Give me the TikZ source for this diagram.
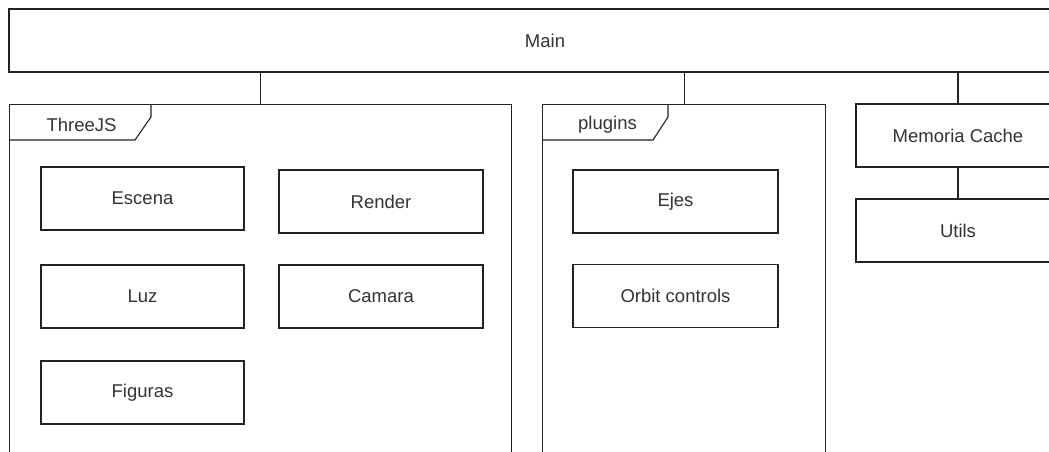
\documentclass[tikz,border=0pt]{standalone}
\usepackage{fontspec}
\setmainfont{Liberation Sans}
\usetikzlibrary{calc}
\definecolor{txt}{HTML}{333333}
\definecolor{ln}{HTML}{222222}
\begin{document}
\begin{tikzpicture}[x=1pt,y=-1pt,
  box/.style={draw=ln,line width=1.1pt,fill=white,rectangle,inner sep=0pt,text=txt,
    font=\fontsize{18.5}{22}\selectfont},
  frame/.style={draw=ln,line width=1.1pt,rectangle,inner sep=0pt},
  tabline/.style={draw=ln,line width=1.1pt},
  tablabel/.style={text=txt,inner sep=0pt,font=\fontsize{18.5}{22}\selectfont},
  conn/.style={draw=ln,line width=1.1pt}]
\useasboundingbox (0,0) rectangle (1049,452);
\clip (0,0) rectangle (1049,452);
\fill[white] (0,0) rectangle (1049,452);
% Main
\node[box,minimum width=1072pt,minimum height=63pt] (main) at (545,40.5) {Main};
% frames
\node[frame,minimum width=502pt,minimum height=380pt,anchor=north west] (three) at (9,104) {};
\node[frame,minimum width=283pt,minimum height=380pt,anchor=north west] (plug) at (542,104) {};
% tabs
\draw[tabline] ($(three.north west)+(142,0)$) -- ++(0,13) -- ++(-16,23) -- ($(three.north west)+(0,36)$);
\node[tablabel] (threelbl) at ($(three.north west)+(72.5,21)$) {ThreeJS};
\draw[tabline] ($(plug.north west)+(126,0)$) -- ++(0,13) -- ++(-15,23) -- ($(plug.north west)+(0,36)$);
\node[tablabel] (pluglbl) at ($(plug.north west)+(65.5,21)$) {plugins};
% ThreeJS contents
\node[box,minimum width=203pt,minimum height=63pt] (escena) at (142.5,198.5) {Escena};
\node[box,minimum width=204pt,minimum height=63pt] (render) at (381,201.5) {Render};
\node[box,minimum width=203pt,minimum height=63pt] (luz) at (142.5,296.5) {Luz};
\node[box,minimum width=204pt,minimum height=63pt] (camara) at (381,296.5) {Camara};
\node[box,minimum width=203pt,minimum height=63pt] (figuras) at (142.5,392.5) {Figuras};
% plugins contents
\node[box,minimum width=205pt,minimum height=63pt] (ejes) at (675.5,201.5) {Ejes};
\node[box,minimum width=205pt,minimum height=63pt] (orbit) at (675.5,296) {Orbit controls};
% right column
\node[box,minimum width=204pt,minimum height=63pt] (cache) at (958,135.5) {Memoria Cache};
\node[box,minimum width=204pt,minimum height=63pt] (utils) at (958,230.5) {Utils};
% connectors
\draw[conn] (main.south -| three.north) -- (three.north);
\draw[conn] (main.south -| plug.north) -- (plug.north);
\draw[conn] (main.south -| cache.north) -- (cache.north);
\draw[conn] (cache.south) -- (utils.north);
\end{tikzpicture}
\end{document}
